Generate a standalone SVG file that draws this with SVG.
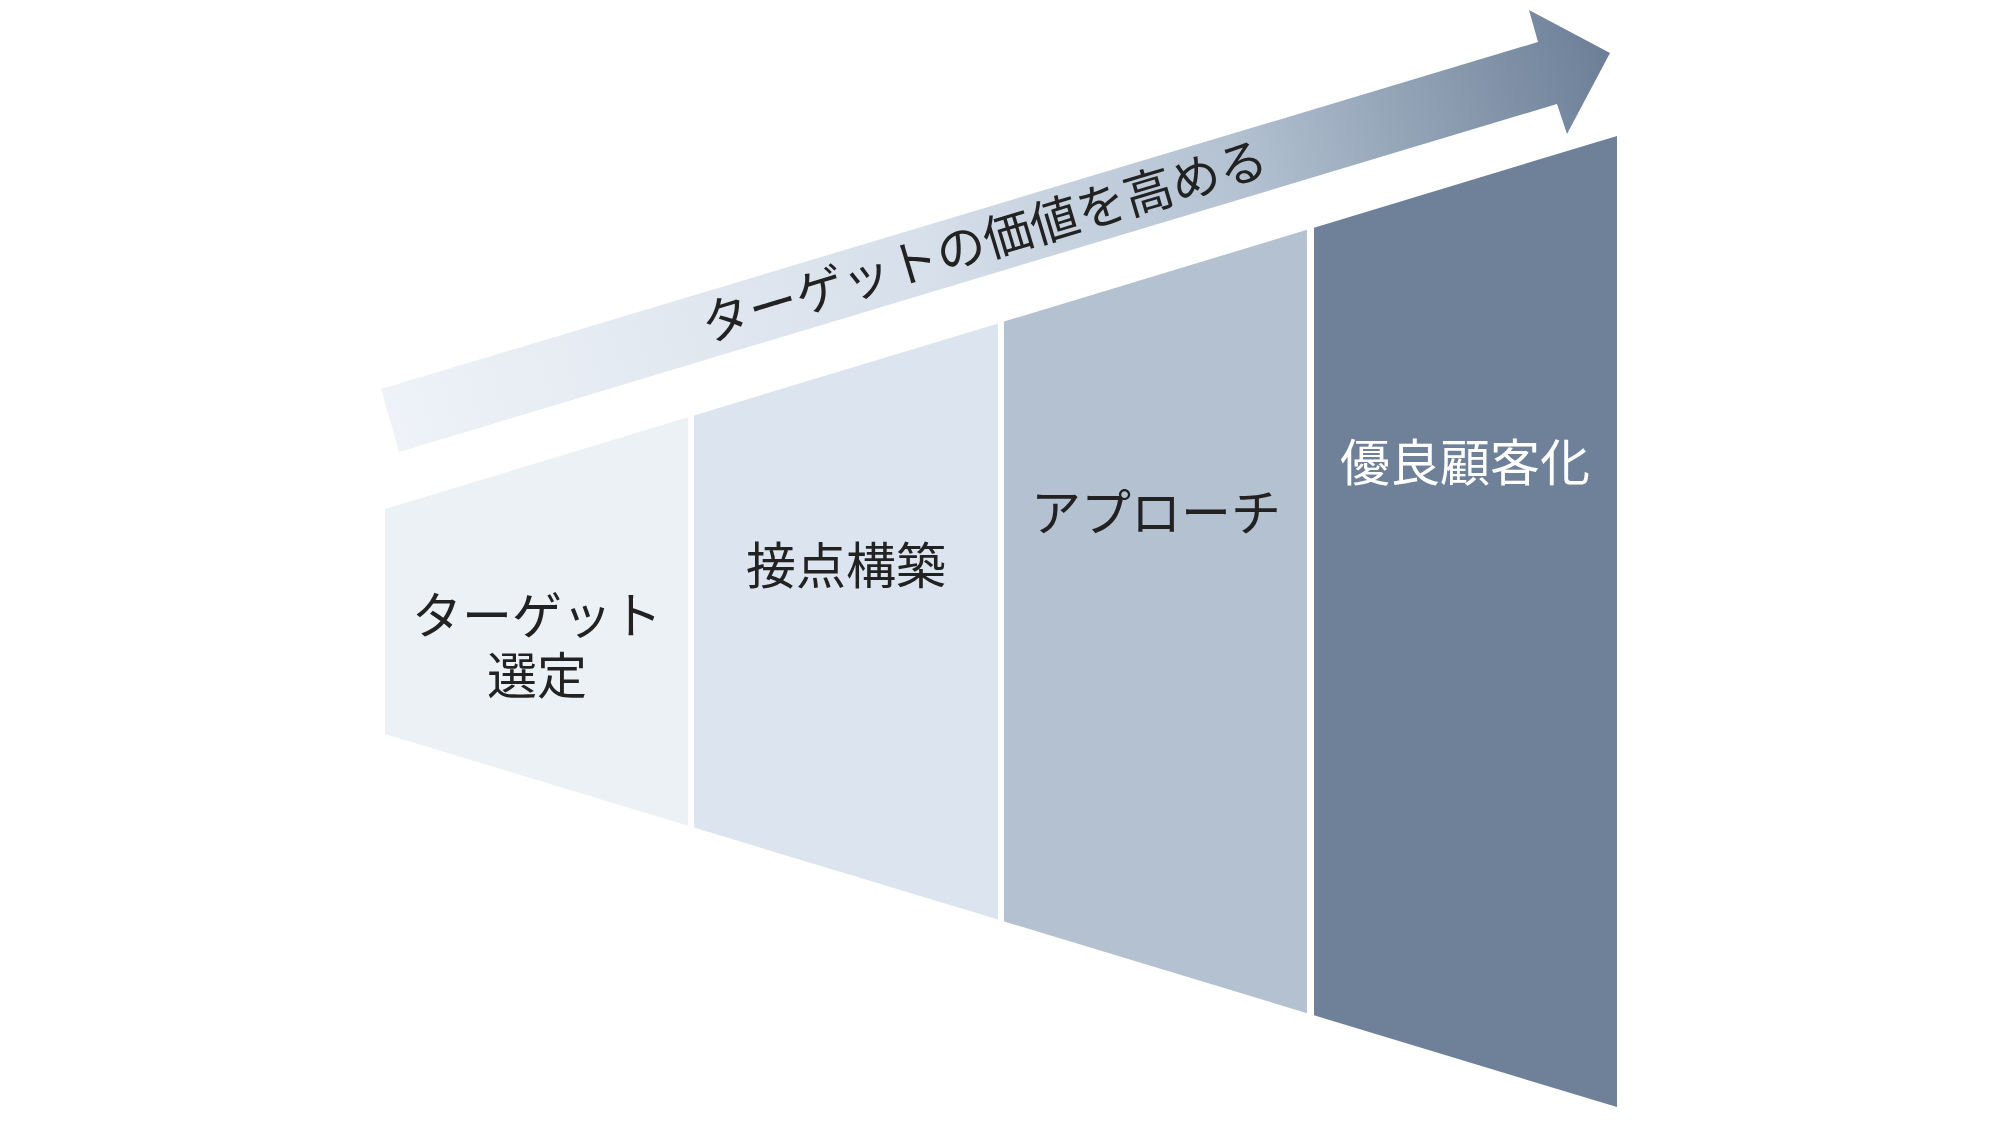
<svg xmlns="http://www.w3.org/2000/svg" width="2000" height="1125" viewBox="0 0 2000 1125">
  <defs>
    <linearGradient id="arrowGrad" gradientUnits="userSpaceOnUse" x1="381" y1="420" x2="1610" y2="60">
      <stop offset="0" stop-color="#EFF3F8"/>
      <stop offset="0.45" stop-color="#D6DFEA"/>
      <stop offset="0.7" stop-color="#B3C1D1"/>
      <stop offset="1" stop-color="#6C7F97"/>
    </linearGradient>
    <style>
      .lbl { font-family: "Noto Sans CJK JP", "Noto Sans", sans-serif; font-size: 50px; fill: #222222; text-anchor: middle; }
      .lbl-arrow { font-size: 49px; }
      .lbl-w { fill: #FFFFFF; }
    </style>
  </defs>
  <rect width="2000" height="1125" fill="#FFFFFF"/>

  <g id="connectors">
    <g id="value-arrow">
      <polygon points="381,389 1538,42 1529,10 1610,53 1567,134 1557,104 399,452" fill="url(#arrowGrad)"/>
      <text class="lbl lbl-arrow" transform="translate(984,241) rotate(-16.7)" x="0" y="18">ターゲットの価値を高める</text>
    </g>
  </g>

  <g id="stage-1">
    <polygon points="385,509 688,417.3 688,825.7 385,734" fill="#ECF1F6"/>
    <text class="lbl"><tspan x="537" y="634">ターゲット</tspan><tspan x="537" y="694">選定</tspan></text>
  </g>

  <g id="stage-2">
    <polygon points="694,415.4 998,323.4 998,919.6 694,827.6" fill="#DCE5EF"/>
    <text class="lbl" x="846" y="584">接点構築</text>
  </g>

  <g id="stage-3">
    <polygon points="1004,321.6 1307,229.8 1307,1013.2 1004,921.4" fill="#B4C1D1"/>
    <text class="lbl" x="1156" y="531">アプローチ</text>
  </g>

  <g id="stage-4">
    <polygon points="1314,227.7 1617,135.9 1617,1107.1 1314,1015.3" fill="#6E8199"/>
    <text class="lbl lbl-w" x="1465" y="481">優良顧客化</text>
  </g>
</svg>
